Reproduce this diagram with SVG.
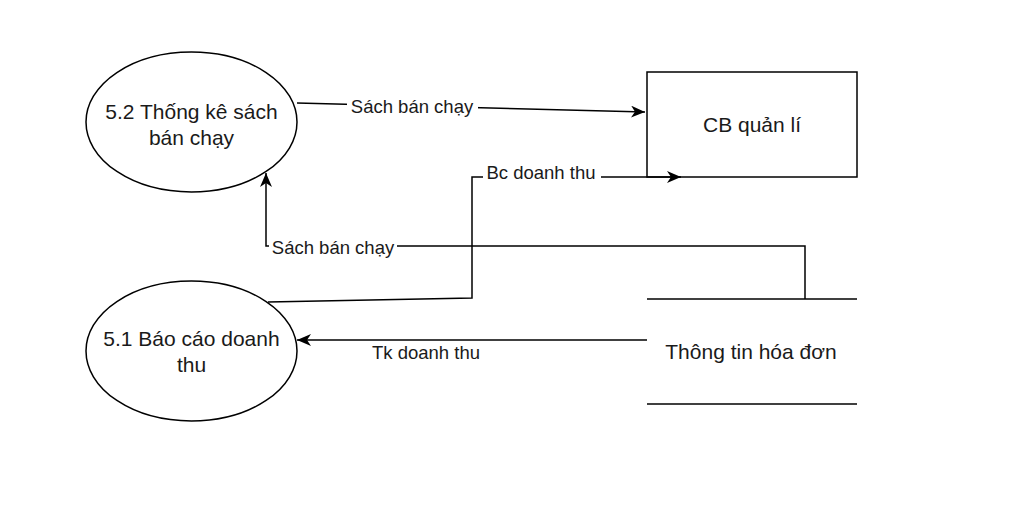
<svg xmlns="http://www.w3.org/2000/svg" width="1027" height="508" viewBox="0 0 1027 508">
<style>
.shape{fill:#fff;stroke:#000;stroke-width:1.5}
.node{font-family:"Liberation Sans",Arial,sans-serif;font-size:21px;fill:#1a1a1a;text-anchor:middle;dominant-baseline:central}
.edge{fill:none;stroke:#000;stroke-width:1.5}
.lbl{font-family:"Liberation Sans",Arial,sans-serif;font-size:18.5px;fill:#1a1a1a;text-anchor:middle;dominant-baseline:central}
.bg{fill:#fff}
</style>
<defs>
<marker id="arr" markerUnits="userSpaceOnUse" markerWidth="16" markerHeight="12" refX="14" refY="6" orient="auto">
<path d="M0,0 L14,6 L0,12 L4,6 z" fill="#000"/>
</marker>
</defs>
<rect width="1027" height="508" fill="#fff"/>
<g id="p52">
<ellipse class="shape" cx="191.5" cy="122" rx="105.5" ry="70"/>
<text class="node" x="191.5" y="111">5.2 Thống kê sách</text>
<text class="node" x="191.5" y="137">bán chạy</text>
</g>
<g id="p51">
<ellipse class="shape" cx="191.5" cy="351" rx="105.5" ry="70"/>
<text class="node" x="191.5" y="338">5.1 Báo cáo doanh</text>
<text class="node" x="191.5" y="364">thu</text>
</g>
<g id="cb">
<rect class="shape" x="647" y="72" width="210" height="105"/>
<text class="node" x="752" y="124">CB quản lí</text>
</g>
<g id="store">
<line class="edge" x1="647" y1="299" x2="857" y2="299"/>
<line class="edge" x1="647" y1="404" x2="857" y2="404"/>
<text class="node" x="751" y="351">Thông tin hóa đơn</text>
</g>
<g id="connectors">
<path class="edge" d="M297,103 L645,112" marker-end="url(#arr)"/>
<rect class="bg" x="347" y="96" width="131" height="22"/>
<text class="lbl" x="412" y="106">Sách bán chạy</text>
<path class="edge" d="M268,302 L472,298 L472,177 L681,177" marker-end="url(#arr)"/>
<rect class="bg" x="483" y="161" width="118" height="22"/>
<text class="lbl" x="541" y="172">Bc doanh thu</text>
<path class="edge" d="M805,299 L805,246 L266,246 L266,173" marker-end="url(#arr)"/>
<rect class="bg" x="269" y="236" width="128" height="22"/>
<text class="lbl" x="333" y="247">Sách bán chạy</text>
<path class="edge" d="M647,340 L297,340" marker-end="url(#arr)"/>
<text class="lbl" x="426" y="352">Tk doanh thu</text>
</g>
</svg>
